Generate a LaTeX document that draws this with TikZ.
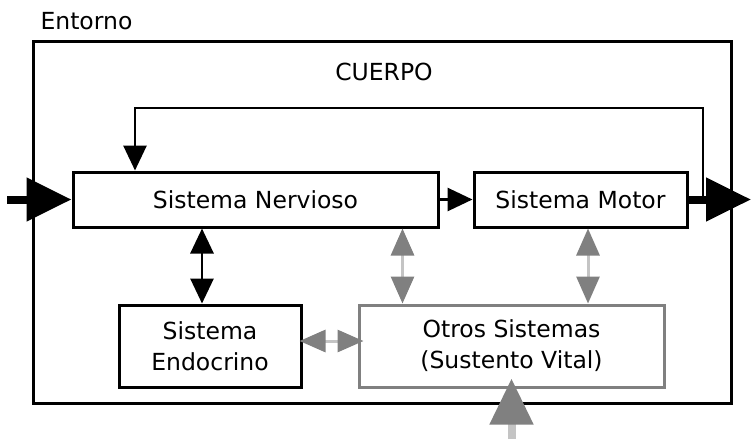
\documentclass[tikz,border=0pt]{standalone}
\usepackage{fontspec}
\setmainfont{DejaVu Sans}
\usetikzlibrary{arrows.meta,positioning}
\definecolor{tipgray}{HTML}{808080}
\definecolor{linegray}{HTML}{C4C4C4}
\begin{document}
\begin{tikzpicture}[x=1pt, y=-1pt,
    every node/.style = {font=\fontsize{23.5}{31}\selectfont},
    box/.style = {draw, line width=3pt, align=center, inner sep=0pt},
    graybox/.style = {box, draw=tipgray},
    blk/.tip = {Triangle[length=25pt, width=23pt]},
    big/.tip = {Triangle[length=45pt, width=42pt]},
    gry/.tip = {Triangle[length=27pt, width=23pt, color=tipgray]},
    link/.style = {line width=2.8pt, -blk},
    twoway/.style = {line width=2.8pt, blk-blk},
    graylink/.style = {line width=3pt, draw=linegray, gry-gry},
    thick/.style = {line width=8pt, -big}]
  \useasboundingbox (0,0) rectangle (751,439);
  \node[anchor=base west] (entorno) at (37,29) {Entorno};
  \node[box, minimum width=698pt, minimum height=362pt] (cuerpo) at (382,222) {};
  \node (titulo) at (384,72) {CUERPO};
  \node[box, minimum width=365pt, minimum height=55pt] (nerv) at (255.5,199.5) {Sistema Nervioso};
  \node[box, minimum width=213pt, minimum height=55pt] (motor) at (580.5,199.5) {Sistema Motor};
  \node[box, minimum width=182pt, minimum height=82pt] (endo) at (210,346) {Sistema\\Endocrino};
  \node[graybox, minimum width=305pt, minimum height=82pt] (otros) at (511.5,346) {Otros Sistemas\\(Sustento Vital)};
  % entradas y salidas
  \coordinate (in) at (7,199.5);
  \coordinate (out) at (751,199.5);
  \coordinate (vit) at (511.5,439);
  \coordinate (vittip) at ([yshift=10pt]otros.south);
  \draw[thick] (in) -- (nerv.west);
  \draw[thick] (motor.east) -- (out);
  \draw[thick, draw=linegray, -{Triangle[length=46pt, width=42pt, color=tipgray]}] (vit) -- (vittip);
  % realimentacion
  \coordinate (fbr) at (703,108);
  \coordinate (fbl) at (135,108);
  \draw[link] (fbr |- motor.east) -- (fbr) -- (fbl) -- (fbl |- nerv.north);
  \draw[link] (nerv) -- (motor);
  \draw[twoway] ([xshift=-8pt]endo.north) -- ([xshift=-8pt]endo.north |- nerv.south);
  % otros sistemas
  \draw[graylink] ([xshift=45pt]otros.north west) -- ([xshift=45pt]otros.north west |- nerv.south);
  \draw[graylink] ([xshift=7.5pt]motor.south) -- ([xshift=7.5pt]motor.south |- otros.north);
  \draw[graylink, shorten <=-3pt, shorten >=-6pt,
    {Triangle[length=26pt, width=22pt, color=tipgray]}-{Triangle[length=26pt, width=22pt, color=tipgray]}]
    ([yshift=5pt]endo.east) -- ([yshift=5pt]otros.west);
\end{tikzpicture}
\end{document}
